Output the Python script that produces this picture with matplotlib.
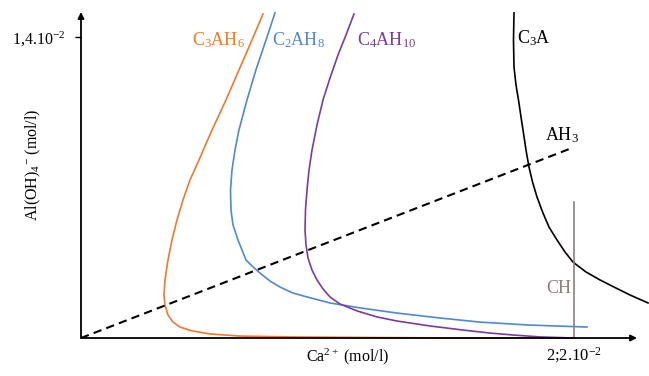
import matplotlib
matplotlib.use("Agg")
import matplotlib.pyplot as plt

plt.rcParams['font.family'] = ['Liberation Serif', 'DejaVu Serif']
plt.rcParams['mathtext.fontset'] = 'custom'
plt.rcParams['mathtext.rm'] = 'Liberation Serif'
plt.rcParams['mathtext.it'] = 'Liberation Serif:italic'
plt.rcParams['mathtext.bf'] = 'Liberation Serif:bold'

# Data in units of 10^-2 mol/l (x: Ca2+, y: Al(OH)4-)
c3ah6_x = [0.8125, 0.7634, 0.7054, 0.6473, 0.5848, 0.5268, 0.4866, 0.4554, 0.4286, 0.4063,
           0.3884, 0.3750, 0.3705, 0.3750, 0.3884, 0.4107, 0.4420, 0.4955, 0.5759, 0.7098,
           0.9330, 1.3350, 1.7370, 2.2050]
c3ah6_y = [1.507, 1.386, 1.247, 1.107, 0.967, 0.828, 0.735, 0.642, 0.549, 0.456,
           0.363, 0.270, 0.200, 0.153, 0.107, 0.074, 0.051, 0.033, 0.019, 0.009,
           0.005, 0.002, 0.0, 0.0]

c2ah8_x = [0.866, 0.826, 0.781, 0.741, 0.705, 0.6875, 0.674, 0.6674, 0.6696, 0.6786,
           0.7009, 0.7366, 0.7634, 0.799, 0.8438, 0.8884, 0.9464, 1.0089, 1.1116, 1.2455,
           1.4107, 1.6027, 1.7813, 2.0045, 2.2589]
c2ah8_y = [1.512, 1.386, 1.247, 1.107, 0.967, 0.874, 0.781, 0.688, 0.595, 0.526,
           0.456, 0.363, 0.335, 0.302, 0.265, 0.237, 0.209, 0.191, 0.163, 0.140,
           0.116, 0.093, 0.074, 0.060, 0.051]

c4ah10_x = [1.2188, 1.183, 1.1473, 1.1116, 1.0804, 1.0536, 1.0313, 1.0179, 1.0089, 1.0022,
            1.0, 1.0045, 1.0134, 1.0313, 1.0536, 1.0804, 1.1116, 1.1563, 1.2321, 1.3214,
            1.4107, 1.558, 1.7054, 1.8259, 1.9286, 2.049, 2.1964]
c4ah10_y = [1.507, 1.409, 1.316, 1.209, 1.107, 0.991, 0.874, 0.781, 0.688, 0.595,
            0.502, 0.433, 0.372, 0.316, 0.270, 0.228, 0.191, 0.158, 0.126, 0.098,
            0.079, 0.056, 0.037, 0.023, 0.014, 0.005, 0.0]

c3a_x = [1.933, 1.9308, 1.933, 1.942, 1.9531, 1.9643, 1.9754, 1.9866, 2.0, 2.0156,
         2.0357, 2.0625, 2.0893, 2.125, 2.1607, 2.1964, 2.2545, 2.317, 2.3795, 2.4509, 2.5313]
c3a_y = [1.512, 1.386, 1.260, 1.177, 1.107, 1.028, 0.953, 0.874, 0.795, 0.726,
         0.656, 0.581, 0.516, 0.456, 0.400, 0.353, 0.307, 0.270, 0.237, 0.200, 0.163]

ah3_x = [0.0, 2.192]
ah3_y = [0.0, 0.884]

ch_x = [2.201, 2.201]
ch_y = [0.0, 0.633]

y_tick = [1.4]
y_tick_labels = ['1,4.10$^{-2}$']
x_tick = [2.2]
x_tick_labels = ['2;2.10$^{-2}$']

W, H = 649, 376
fig = plt.figure(figsize=(W / 100, H / 100), dpi=100)
ax = fig.add_axes([81 / W, 38 / H, (W - 81) / W, 338 / H])
ax.set_xlim(0, 568 / 224)
ax.set_ylim(0, 338 / 215)
for s in ax.spines.values():
    s.set_visible(False)

orange = '#EE7A2C'
blue = '#4F89CF'
purple = '#7A3C9E'
gray = '#8a7f7f'

ax.plot(c3ah6_x, c3ah6_y, color=orange, lw=1.2, clip_on=False, solid_joinstyle='round')
ax.plot(c2ah8_x, c2ah8_y, color=blue, lw=1.2, clip_on=False, solid_joinstyle='round')
ax.plot(c4ah10_x, c4ah10_y, color=purple, lw=1.2, clip_on=False, solid_joinstyle='round')
ax.plot(c3a_x, c3a_y, color='black', lw=1.2, clip_on=False, solid_joinstyle='round')
ax.plot(ah3_x, ah3_y, color='black', lw=1.5, ls=(0, (4, 2.5)))
ax.plot(ch_x, ch_y, color=gray, lw=1.2)

# axes with arrows
ax.annotate('', xy=(556 / 224, 0), xytext=(0, 0), xycoords='data',
            arrowprops=dict(arrowstyle='-|>', color='black', lw=1.3,
                            mutation_scale=9, shrinkA=0, shrinkB=0),
            annotation_clip=False)
ax.annotate('', xy=(0, 326 / 215), xytext=(0, 0), xycoords='data',
            arrowprops=dict(arrowstyle='-|>', color='black', lw=1.3,
                            mutation_scale=9, shrinkA=0, shrinkB=0),
            annotation_clip=False)

ax.set_yticks(y_tick)
ax.set_yticklabels(y_tick_labels, fontsize=11.5)
ax.set_xticks(x_tick)
ax.set_xticklabels(x_tick_labels, fontsize=12)
ax.tick_params(axis='y', length=4, width=1, pad=7)
ax.tick_params(axis='x', length=0, pad=5)

ax.text(1.19, -0.085, 'Ca$^{2+}$ (mol/l)', fontsize=11.5, ha='center', va='center')
fig.text(33 / W, 1 - 165 / H, 'Al(OH)$_4$$^{-}$ (mol/l)', fontsize=11.5,
         rotation=90, ha='center', va='center')

fs = 13
ax.text(0.496, 1.385, 'C$_3$AH$_6$', color=orange, fontsize=fs, ha='left', va='center')
ax.text(0.853, 1.385, 'C$_2$AH$_8$', color=blue, fontsize=fs, ha='left', va='center')
ax.text(1.232, 1.385, 'C$_4$AH$_{10}$', color=purple, fontsize=fs, ha='left', va='center')
ax.text(1.946, 1.395, 'C$_3$A', color='black', fontsize=fs, ha='left', va='center')
ax.text(2.07, 0.945, 'AH$_3$', color='black', fontsize=fs, ha='left', va='center')
ax.text(2.19, 0.23, 'CH', color=gray, fontsize=fs, ha='right', va='center')

fig.savefig('out.png', dpi=100)
